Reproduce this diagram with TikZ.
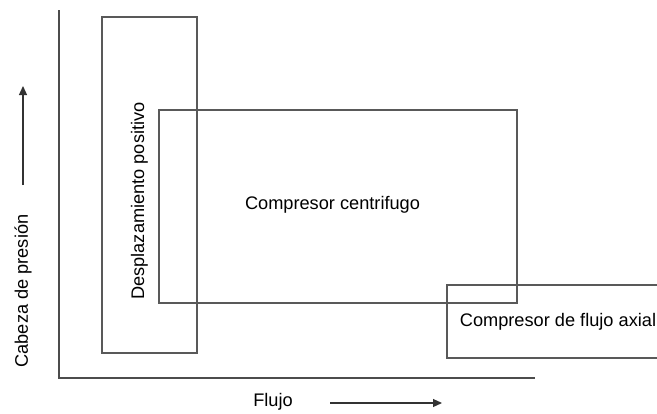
\documentclass[tikz,border=0pt]{standalone}
\usepackage{fontspec}
\setmainfont{Liberation Sans}
\usetikzlibrary{arrows.meta}
\begin{document}
\begin{tikzpicture}[x=1pt,y=-1pt,
  boxline/.style={draw=black!65,line width=1.3pt},
  axisline/.style={draw=black!70,line width=1.1pt},
  lbl/.style={inner sep=0pt,font=\fontsize{18.2}{21}\selectfont,text=black},
  arr/.style={draw=black!80,line width=1.2pt,-{Triangle[length=9pt,width=8pt]}}]
\useasboundingbox (0,0) rectangle (657,413);
\clip (0,0) rectangle (657,413);
% axes
\coordinate (otop) at (59,10);
\coordinate (orig) at (59,378);
\coordinate (xend) at (535,378);
\draw[axisline] (otop) -- (orig) -- (xend);
% boxes
\draw[boxline] (102,17) rectangle (197,353);
\draw[boxline] (159,110) rectangle (517,303);
\draw[boxline] (447,285) rectangle (670,358);
% labels
\node[lbl,rotate=90] (dp) at (139.5,201) {Desplazamiento positivo};
\node[lbl] (cc) at (332.5,205) {Compresor centrifugo};
\node[lbl] (cfa) at (558,322) {Compresor de flujo axial};
\node[lbl,rotate=90] (cab) at (23,291) {Cabeza de presión};
\node[lbl] (flujo) at (273,402) {Flujo};
% arrows
\coordinate (ya) at (23,185);
\coordinate (yb) at (23,86);
\draw[arr] (ya) -- (yb);
\coordinate (xa) at (330,403);
\coordinate (xb) at (442,403);
\draw[arr] (xa) -- (xb);
\end{tikzpicture}
\end{document}
